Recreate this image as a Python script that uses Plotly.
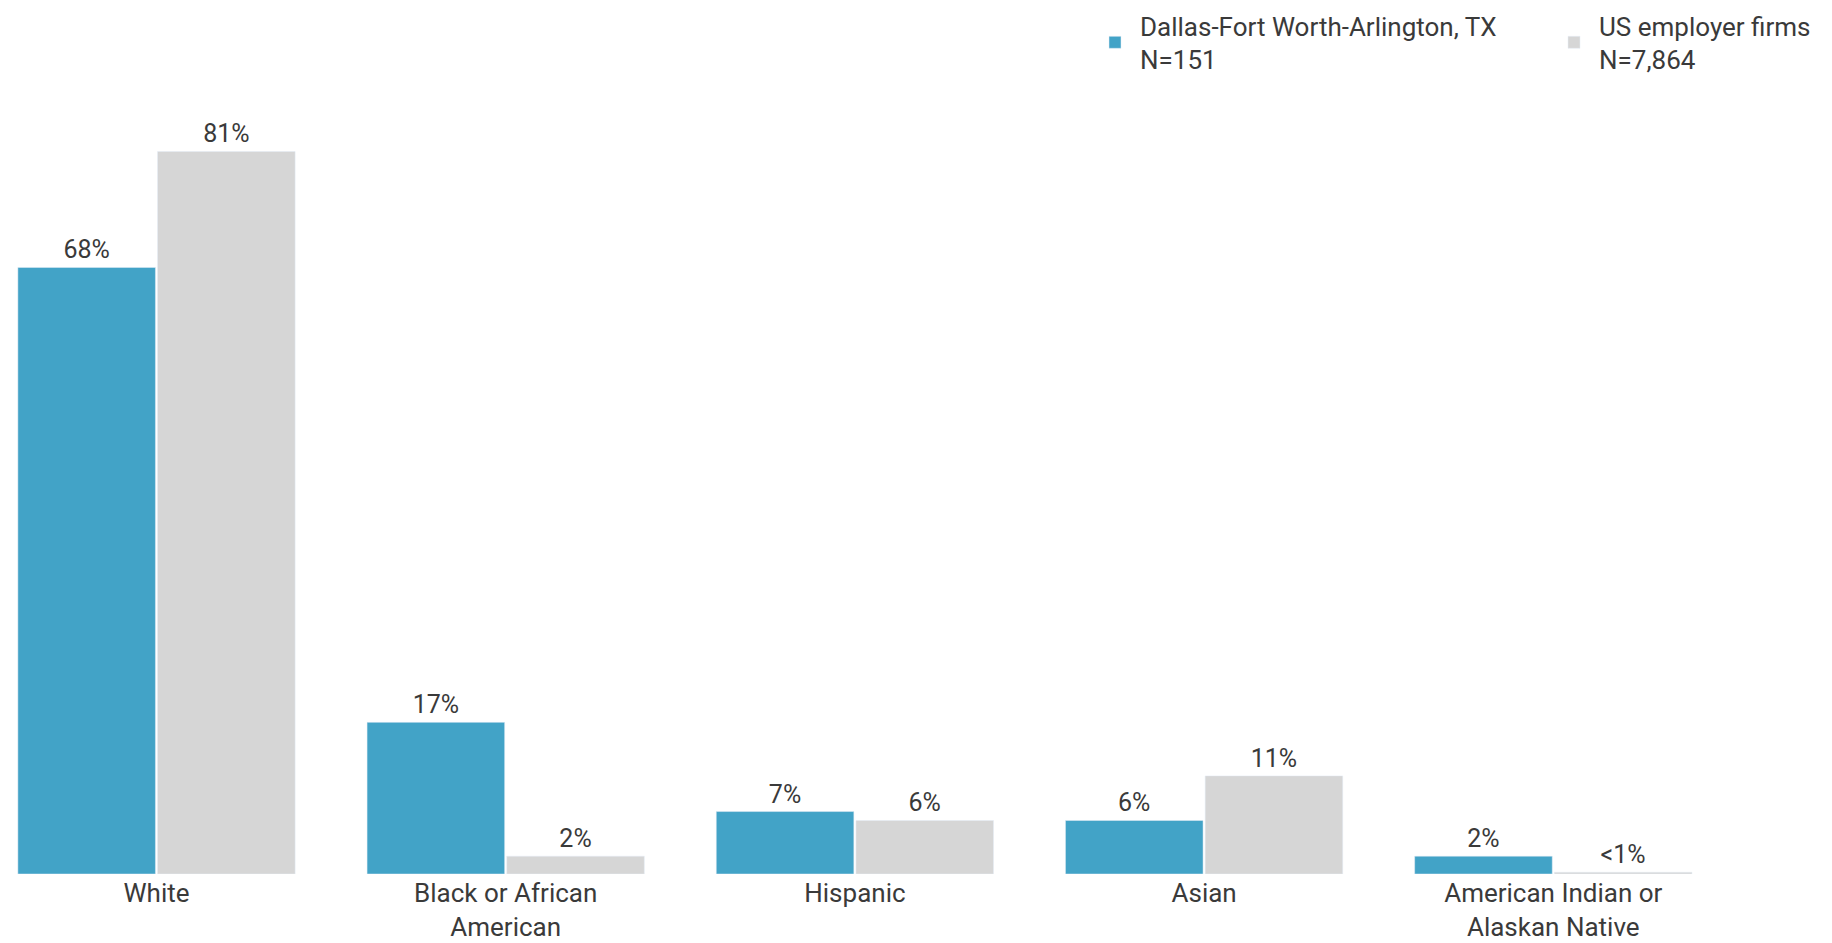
import plotly.graph_objects as go

categories = ["White", "Black or African<br>American", "Hispanic", "Asian", "American Indian or<br>Alaskan Native"]
dfw_values = [68, 17, 7, 6, 2]
us_values = [81, 2, 6, 11, 0.2]
dfw_labels = ["68%", "17%", "7%", "6%", "2%"]
us_labels = ["81%", "2%", "6%", "11%", "<1%"]
dfw_name = "Dallas-Fort Worth-Arlington, TX<br>N=151"
us_name = "US employer firms<br>N=7,864"

FONT = "Roboto"
TXT = "#3a3a3a"

fig = go.Figure()
fig.add_trace(go.Bar(
    x=categories, y=dfw_values, name=dfw_name,
    marker=dict(color="#42A3C7"),
    text=dfw_labels, textposition="outside", cliponaxis=False,
    textfont=dict(family=FONT, size=25, color=TXT),
))
fig.add_trace(go.Bar(
    x=categories, y=us_values, name=us_name,
    marker=dict(color="#D6D6D6"),
    text=us_labels, textposition="outside", cliponaxis=False,
    textfont=dict(family=FONT, size=25, color=TXT),
))

# page body has an 8px margin: figure origin sits at (8, 8) in the window
OFF = 8
W, H = 1832 - OFF, 943 - OFF
base = 874 - OFF          # bar baseline in figure px
top = 100 - OFF           # plot area top
t = top
b = H - base
plot_h = base - top
px_per_pct = 8.92
cat_step = 349.2
first_center = 156.5 - OFF

fig.update_layout(
    width=W, height=H,
    margin=dict(l=0, r=0, t=t, b=b, pad=0, autoexpand=False),
    paper_bgcolor="white", plot_bgcolor="white",
    barmode="group", bargap=0.2, bargroupgap=0.015,
    font=dict(family=FONT, color=TXT),
    showlegend=True,
    legend=dict(
        orientation="h", x=(1090 - OFF) / W, xanchor="left",
        y=1 + (t + 6) / plot_h, yanchor="top",
        font=dict(family=FONT, size=26, color=TXT),
        itemwidth=40, traceorder="normal",
        entrywidth=404, entrywidthmode="pixels",
        bgcolor="rgba(0,0,0,0)",
    ),
    xaxis=dict(
        range=[-first_center / cat_step, (W - first_center) / cat_step],
        showline=False, showgrid=False, zeroline=False, ticks="",
        tickfont=dict(family=FONT, size=26, color=TXT),
        ticklabelstandoff=1,
        fixedrange=True,
    ),
    yaxis=dict(
        range=[0, plot_h / px_per_pct], visible=False, showgrid=False, zeroline=False,
    ),
)
fig.write_html("out.html")
